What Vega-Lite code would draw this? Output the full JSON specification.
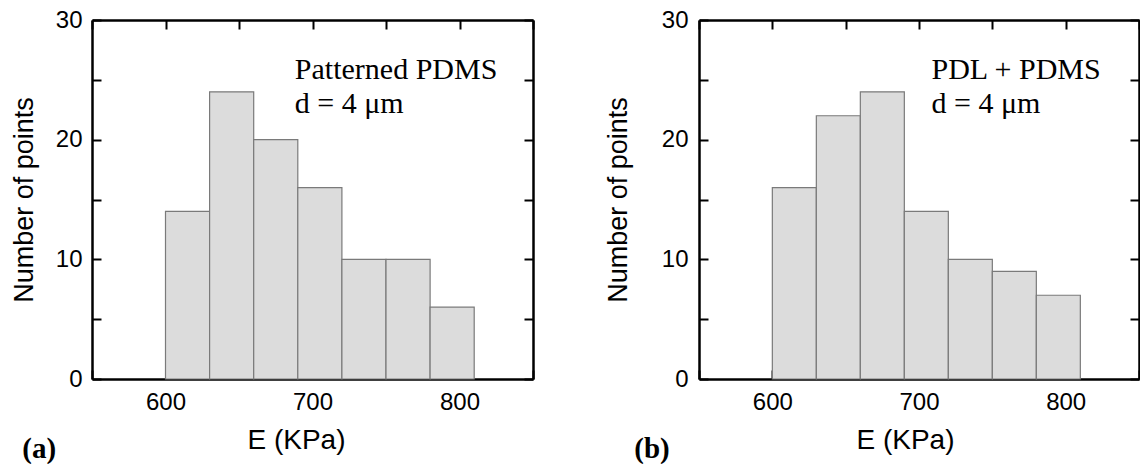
{
  "$schema": "https://vega.github.io/schema/vega-lite/v6.json",
  "padding": {"left": 10, "top": 8, "right": 0, "bottom": 0},
  "background": "white",
  "spacing": 70,
  "config": {
    "view": {"stroke": null},
    "axis": {
      "domain": true,
      "domainColor": "black",
      "domainWidth": 2.5,
      "grid": false,
      "ticks": true,
      "tickColor": "black",
      "tickWidth": 2,
      "tickSize": -9,
      "zindex": 1,
      "labelFont": "Liberation Sans",
      "labelFontSize": 24,
      "labelColor": "black",
      "titleFont": "Liberation Sans",
      "titleFontSize": 27,
      "titleFontWeight": "normal",
      "titleColor": "black"
    },
    "title": {"font": "Liberation Serif", "fontSize": 29, "fontWeight": "bold", "color": "black"}
  },
  "datasets": {
    "a": [
      {"start": 600, "end": 630, "count": 14},
      {"start": 630, "end": 660, "count": 24},
      {"start": 660, "end": 690, "count": 20},
      {"start": 690, "end": 720, "count": 16},
      {"start": 720, "end": 750, "count": 10},
      {"start": 750, "end": 780, "count": 10},
      {"start": 780, "end": 810, "count": 6}
    ],
    "b": [
      {"start": 600, "end": 630, "count": 16},
      {"start": 630, "end": 660, "count": 22},
      {"start": 660, "end": 690, "count": 24},
      {"start": 690, "end": 720, "count": 14},
      {"start": 720, "end": 750, "count": 10},
      {"start": 750, "end": 780, "count": 9},
      {"start": 780, "end": 810, "count": 7}
    ],
    "ta": [
      {"x": 688, "y": 25.1, "label": "Patterned PDMS"},
      {"x": 688, "y": 22.2, "label": "d = 4 μm"}
    ],
    "tb": [
      {"x": 708.5, "y": 25.1, "label": "PDL + PDMS"},
      {"x": 708.5, "y": 22.2, "label": "d = 4 μm"}
    ]
  },
  "hconcat": [
    {
      "width": 441,
      "height": 359,
      "title": {"text": "(a)", "orient": "bottom", "anchor": "start", "frame": "bounds", "offset": -19, "dx": 12},
      "layer": [
        {
          "data": {"name": "a"},
          "mark": {"type": "rect", "fill": "#dcdcdc", "stroke": "#7a7a7a", "strokeWidth": 1.2},
          "encoding": {
            "x": {"field": "start", "type": "quantitative", "scale": {"domain": [550, 850], "nice": false, "zero": false},
              "axis": {"orient": "bottom", "values": [550, 600, 650, 700, 750, 800, 850], "labelExpr": "datum.value % 100 === 0 ? datum.label : ''",
                "encode": {"ticks": {"update": {"y2": {"signal": "datum.value % 100 === 0 ? -9 : -5"}}}},
                "labelPadding": 20, "labelFlush": false, "title": "E (KPa)", "titleFontSize": 28, "titlePadding": 12, "titleX": 204}},
            "x2": {"field": "end"},
            "y": {"field": "count", "type": "quantitative", "scale": {"domain": [0, 30], "nice": false},
              "axis": {"orient": "left", "values": [0, 5, 10, 15, 20, 25, 30], "labelExpr": "datum.value % 10 === 0 ? datum.label : ''",
                "encode": {"ticks": {"update": {"x2": {"signal": "datum.value % 10 === 0 ? 9 : 5"}}}},
                "labelPadding": 19, "title": "Number of points", "titlePadding": 17}},
            "y2": {"datum": 0}
          }
        },
        {
          "data": {"name": "ta"},
          "mark": {"type": "text", "font": "Liberation Serif", "fontSize": 30, "align": "left", "baseline": "alphabetic", "color": "black"},
          "encoding": {
            "x": {"field": "x", "type": "quantitative", "scale": {"domain": [550, 850], "nice": false, "zero": false},
              "axis": {"orient": "top", "values": [550, 600, 650, 700, 750, 800, 850], "labels": false, "title": null,
                "encode": {"ticks": {"update": {"y2": {"signal": "datum.value % 100 === 0 ? 9 : 5"}}}}}},
            "y": {"field": "y", "type": "quantitative", "scale": {"domain": [0, 30], "nice": false},
              "axis": {"orient": "right", "values": [0, 5, 10, 15, 20, 25, 30], "labels": false, "title": null,
                "encode": {"ticks": {"update": {"x2": {"signal": "datum.value % 10 === 0 ? -9 : -5"}}}}}},
            "text": {"field": "label"}
          }
        }
      ],
      "resolve": {"axis": {"x": "independent", "y": "independent"}}
    },
    {
      "width": 440,
      "height": 359,
      "title": {"text": "(b)", "orient": "bottom", "anchor": "start", "frame": "bounds", "offset": -19, "dx": 30},
      "layer": [
        {
          "data": {"name": "b"},
          "mark": {"type": "rect", "fill": "#dcdcdc", "stroke": "#7a7a7a", "strokeWidth": 1.2},
          "encoding": {
            "x": {"field": "start", "type": "quantitative", "scale": {"domain": [550, 850], "nice": false, "zero": false},
              "axis": {"orient": "bottom", "values": [550, 600, 650, 700, 750, 800, 850], "labelExpr": "datum.value % 100 === 0 ? datum.label : ''",
                "encode": {"ticks": {"update": {"y2": {"signal": "datum.value % 100 === 0 ? -9 : -5"}}}},
                "labelPadding": 20, "labelFlush": false, "title": "E (KPa)", "titleFontSize": 28, "titlePadding": 12, "titleX": 206}},
            "x2": {"field": "end"},
            "y": {"field": "count", "type": "quantitative", "scale": {"domain": [0, 30], "nice": false},
              "axis": {"orient": "left", "values": [0, 5, 10, 15, 20, 25, 30], "labelExpr": "datum.value % 10 === 0 ? datum.label : ''",
                "encode": {"ticks": {"update": {"x2": {"signal": "datum.value % 10 === 0 ? 9 : 5"}}}},
                "labelPadding": 20, "title": "Number of points", "titlePadding": 29}},
            "y2": {"datum": 0}
          }
        },
        {
          "data": {"name": "tb"},
          "mark": {"type": "text", "font": "Liberation Serif", "fontSize": 30, "align": "left", "baseline": "alphabetic", "color": "black"},
          "encoding": {
            "x": {"field": "x", "type": "quantitative", "scale": {"domain": [550, 850], "nice": false, "zero": false},
              "axis": {"orient": "top", "values": [550, 600, 650, 700, 750, 800, 850], "labels": false, "title": null,
                "encode": {"ticks": {"update": {"y2": {"signal": "datum.value % 100 === 0 ? 9 : 5"}}}}}},
            "y": {"field": "y", "type": "quantitative", "scale": {"domain": [0, 30], "nice": false},
              "axis": {"orient": "right", "values": [0, 5, 10, 15, 20, 25, 30], "labels": false, "title": null,
                "encode": {"ticks": {"update": {"x2": {"signal": "datum.value % 10 === 0 ? -9 : -5"}}}}}},
            "text": {"field": "label"}
          }
        }
      ],
      "resolve": {"axis": {"x": "independent", "y": "independent"}}
    }
  ]
}
